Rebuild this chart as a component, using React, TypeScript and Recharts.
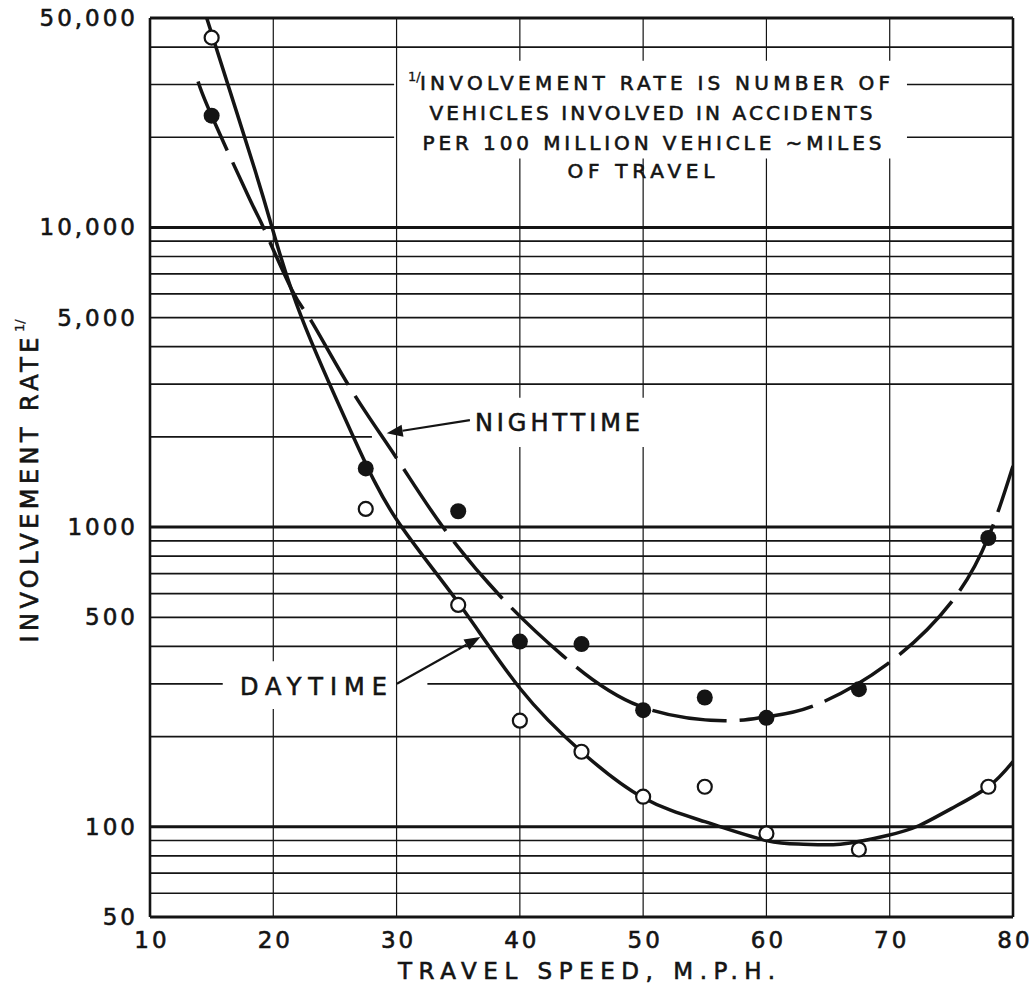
import React from 'react';
import { ComposedChart, XAxis, YAxis, Line, Scatter, ReferenceLine } from 'recharts';

const FONT = '"DejaVu Sans", "Liberation Sans", Arial, sans-serif';
const INK = '#141414';
const TEXT_STROKE = 0.6;

// ---- axis ticks ----
const speedTicks = [10, 20, 30, 40, 50, 60, 70, 80];
const rateTicks = [50, 100, 500, 1000, 5000, 10000, 50000];
const rateTickLabels = ['50', '100', '500', '1000', '5,000', '10,000', '50,000'];

// ---- observed points ----
const pointSpeeds = [15, 27.5, 35, 40, 45, 50, 55, 60, 67.5, 78];
const daytimeRates = [43000, 1150, 550, 226, 178, 126, 136, 95, 84, 136];
const nighttimeRates = [23600, 1570, 1130, 415, 407, 245, 270, 231, 288, 920];

// ---- fitted curves ----
const daytimeCurveSpeeds = [14.6, 16.5, 18.5, 19.9, 22.3, 26.5, 30, 35, 40, 45, 50, 55, 60, 63, 66, 69.8, 72.4, 75, 78, 80];
const daytimeCurveRates = [50000, 28400, 15600, 10000, 5000, 2000, 1060, 560, 290, 178, 125, 104, 90, 87.5, 87.5, 93.5, 101, 115, 136, 165];
const nighttimeCurveSpeeds = [13.9, 15, 18.1, 19.2, 21.5, 23.1, 26.2, 29.9, 33.7, 38.4, 43.5, 49.7, 56.6, 60, 63.8, 69.8, 75, 78, 80];
const nighttimeCurveRates = [30700, 23600, 12400, 10000, 6200, 4860, 2930, 1725, 1008, 589, 372, 253, 226, 233, 253, 349, 562, 926, 1600];

// ---- grid ----
const gridSpeeds = [20, 30, 40, 50, 60, 70];
const gridRatesMajor = [100, 1000, 10000];
const gridRatesMinor = [60, 70, 80, 90, 200, 300, 400, 500, 600, 700, 800, 900, 2000, 3000, 4000, 5000, 6000, 7000, 8000, 9000, 20000, 30000, 40000];

// clearances of the grid around the lettering
const hGaps: Record<number, [number, number][]> = {
  20000: [[29.8, 71.4]],
  30000: [[29.8, 71.4]],
  2000: [[28.0, 80]],
  300: [[15.9, 32.5]],
};
const vGaps: Record<number, [number, number][]> = {
  20: [[247, 357]],
  40: [[1850, 2700], [17000, 36000]],
  50: [[1850, 2700], [17000, 36000]],
  60: [[17000, 36000]],
  70: [[17000, 36000]],
};

// ---- annotations ----
const footnoteLines = ['INVOLVEMENT RATE IS NUMBER OF', 'VEHICLES INVOLVED IN ACCIDENTS', 'PER 100 MILLION VEHICLE ~MILES', 'OF TRAVEL'];
const footnoteAnchor = { speed: 50.55, rate: 30430 };
const nightLabelAnchor = { speed: 36.36, rate: 2239 };
const dayLabelAnchor = { speed: 17.3, rate: 295 };
const nightArrow = [{ x: 35.95, y: 2274 }, { x: 29.2, y: 2057 }];
const dayArrow = [{ x: 30.03, y: 300 }, { x: 36.8, y: 430 }];

const zip = (s: number[], r: number[]) => s.map((speed, i) => ({ speed, rate: r[i] }));
const daytimePoints = zip(pointSpeeds, daytimeRates);
const nighttimePoints = zip(pointSpeeds, nighttimeRates);
const daytimeCurve = zip(daytimeCurveSpeeds, daytimeCurveRates);
const nighttimeCurve = zip(nighttimeCurveSpeeds, nighttimeCurveRates);

const split = (lo: number, hi: number, gaps: [number, number][] = []) => {
  const segs: [number, number][] = [];
  let cur = lo;
  [...gaps].sort((p, q) => p[0] - q[0]).forEach(([a, b]) => {
    if (a > cur) segs.push([cur, a]);
    cur = Math.max(cur, b);
  });
  if (cur < hi) segs.push([cur, hi]);
  return segs;
};

const txt = { fontFamily: FONT, fill: INK, stroke: INK, strokeWidth: TEXT_STROKE };

const YTick = (p: any) => {
  const i = rateTicks.indexOf(p.payload.value);
  return (
    <text x={p.x} y={p.y} textAnchor="end" dominantBaseline="central" fontSize={23} letterSpacing={3} {...txt}>
      {i >= 0 ? rateTickLabels[i] : p.payload.value}
    </text>
  );
};

const XTick = (p: any) => (
  <text x={p.x + 2} y={p.y + 23} textAnchor="middle" dominantBaseline="central" fontSize={23} letterSpacing={3} {...txt}>
    {p.payload.value}
  </text>
);

const XTitle = (p: any) => {
  const vb = p.viewBox || { x: 150, y: 917, width: 863, height: 76 };
  const cx = vb.x + vb.width / 2 + 5;
  return (
    <text x={cx} y={vb.y + 62} textAnchor="middle" fontSize={23} textLength={377} lengthAdjust="spacing" {...txt}>
      TRAVEL SPEED, M.P.H.
    </text>
  );
};

const YTitle = () => (
  <g transform="translate(29,490) rotate(-90)">
    <text x={0} y={9} textAnchor="middle" fontSize={24} textLength={305} lengthAdjust="spacing" {...txt}>
      INVOLVEMENT RATE
    </text>
    <text x={158} y={-5} fontSize={13} {...txt} strokeWidth={0.3}>1/</text>
  </g>
);

const Arrow = (p: any) => {
  const { x1, y1, x2, y2 } = p;
  const ang = Math.atan2(y2 - y1, x2 - x1);
  const L = 16, W = 6;
  const bx = x2 - L * Math.cos(ang), by = y2 - L * Math.sin(ang);
  const px = -Math.sin(ang) * W, py = Math.cos(ang) * W;
  return (
    <g>
      <line x1={x1} y1={y1} x2={bx} y2={by} stroke={INK} strokeWidth={2.2} />
      <polygon points={`${x2},${y2} ${bx + px},${by + py} ${bx - px},${by - py}`} fill={INK} />
    </g>
  );
};

const footDx = [5, 1, 2, -9];
const footDy = [0, 30, 60, 88];
const footW = [470, 443, 459, 147];
const Footnote = (p: any) => {
  const { x1, y1 } = p;
  return (
    <g>
      <text x={x1 - 242} y={y1 - 2} fontSize={13} {...txt} strokeWidth={0.3}>1/</text>
      {footnoteLines.map((t, i) => (
        <text key={i} x={x1 + footDx[i]} y={y1 + footDy[i] + 7} textAnchor="middle" fontSize={20} textLength={footW[i]} lengthAdjust="spacing" {...txt}>
          {t}
        </text>
      ))}
    </g>
  );
};

const NightLabel = (p: any) => (
  <text x={p.x1} y={p.y1 + 9} fontSize={24} textLength={165} lengthAdjust="spacing" {...txt}>NIGHTTIME</text>
);
const DayLabel = (p: any) => (
  <text x={p.x1} y={p.y1 + 9} fontSize={24} textLength={147} lengthAdjust="spacing" {...txt}>DAYTIME</text>
);

const OpenDot = (p: any) => <circle cx={p.cx} cy={p.cy} r={7} fill="#fff" stroke={INK} strokeWidth={2.2} />;
const FilledDot = (p: any) => <circle cx={p.cx} cy={p.cy} r={8} fill={INK} />;

export default function App() {
  const hLines: React.ReactNode[] = [];
  [...gridRatesMinor, ...gridRatesMajor].forEach((r) => {
    const major = gridRatesMajor.includes(r);
    split(10, 80, hGaps[r]).forEach(([a, b], j) => {
      hLines.push(
        <ReferenceLine key={`h${r}-${j}`} segment={[{ x: a, y: r }, { x: b, y: r }]} stroke={INK} strokeWidth={major ? 3 : 1.7} />
      );
    });
  });
  const vLines: React.ReactNode[] = [];
  gridSpeeds.forEach((s) => {
    split(50, 50000, vGaps[s]).forEach(([a, b], j) => {
      vLines.push(
        <ReferenceLine key={`v${s}-${j}`} segment={[{ x: s, y: a }, { x: s, y: b }]} stroke={INK} strokeWidth={1.2} />
      );
    });
  });

  return (
    <div style={{ position: 'absolute', left: 0, top: 0, width: 1033, height: 993, background: '#fff' }}>
      <ComposedChart width={1033} height={993} margin={{ top: 18, right: 20, bottom: 0, left: 0 }}>
        <XAxis dataKey="speed" type="number" domain={[10, 80]} ticks={speedTicks} interval={0} allowDataOverflow
          tick={XTick} tickLine={false} axisLine={false} tickSize={0} tickMargin={0} height={76} label={XTitle} />
        <YAxis dataKey="rate" type="number" scale="log" domain={[50, 50000]} ticks={rateTicks} interval={0} allowDataOverflow
          tick={YTick} tickLine={false} axisLine={false} tickSize={0} tickMargin={12} width={150} label={YTitle} />
        {vLines}
        {hLines}
        <ReferenceLine x={10} stroke={INK} strokeWidth={2.6} />
        <ReferenceLine x={80} stroke={INK} strokeWidth={2.6} />
        <ReferenceLine y={50} stroke={INK} strokeWidth={3} />
        <ReferenceLine y={50000} stroke={INK} strokeWidth={3} />
        <ReferenceLine segment={[{ x: footnoteAnchor.speed, y: footnoteAnchor.rate }, { x: footnoteAnchor.speed, y: footnoteAnchor.rate }]} shape={Footnote} />
        <ReferenceLine segment={[{ x: nightLabelAnchor.speed, y: nightLabelAnchor.rate }, { x: nightLabelAnchor.speed, y: nightLabelAnchor.rate }]} shape={NightLabel} />
        <ReferenceLine segment={[{ x: dayLabelAnchor.speed, y: dayLabelAnchor.rate }, { x: dayLabelAnchor.speed, y: dayLabelAnchor.rate }]} shape={DayLabel} />
        <ReferenceLine segment={nightArrow} shape={Arrow} />
        <ReferenceLine segment={dayArrow} shape={Arrow} />
        <Line data={nighttimeCurve} dataKey="rate" type="natural" stroke={INK} strokeWidth={3.5} strokeDasharray="75 13" dot={false} activeDot={false} isAnimationActive={false} />
        <Line data={daytimeCurve} dataKey="rate" type="natural" stroke={INK} strokeWidth={3.5} dot={false} activeDot={false} isAnimationActive={false} />
        <Scatter data={nighttimePoints} dataKey="rate" shape={FilledDot} isAnimationActive={false} />
        <Scatter data={daytimePoints} dataKey="rate" shape={OpenDot} isAnimationActive={false} />
      </ComposedChart>
    </div>
  );
}
